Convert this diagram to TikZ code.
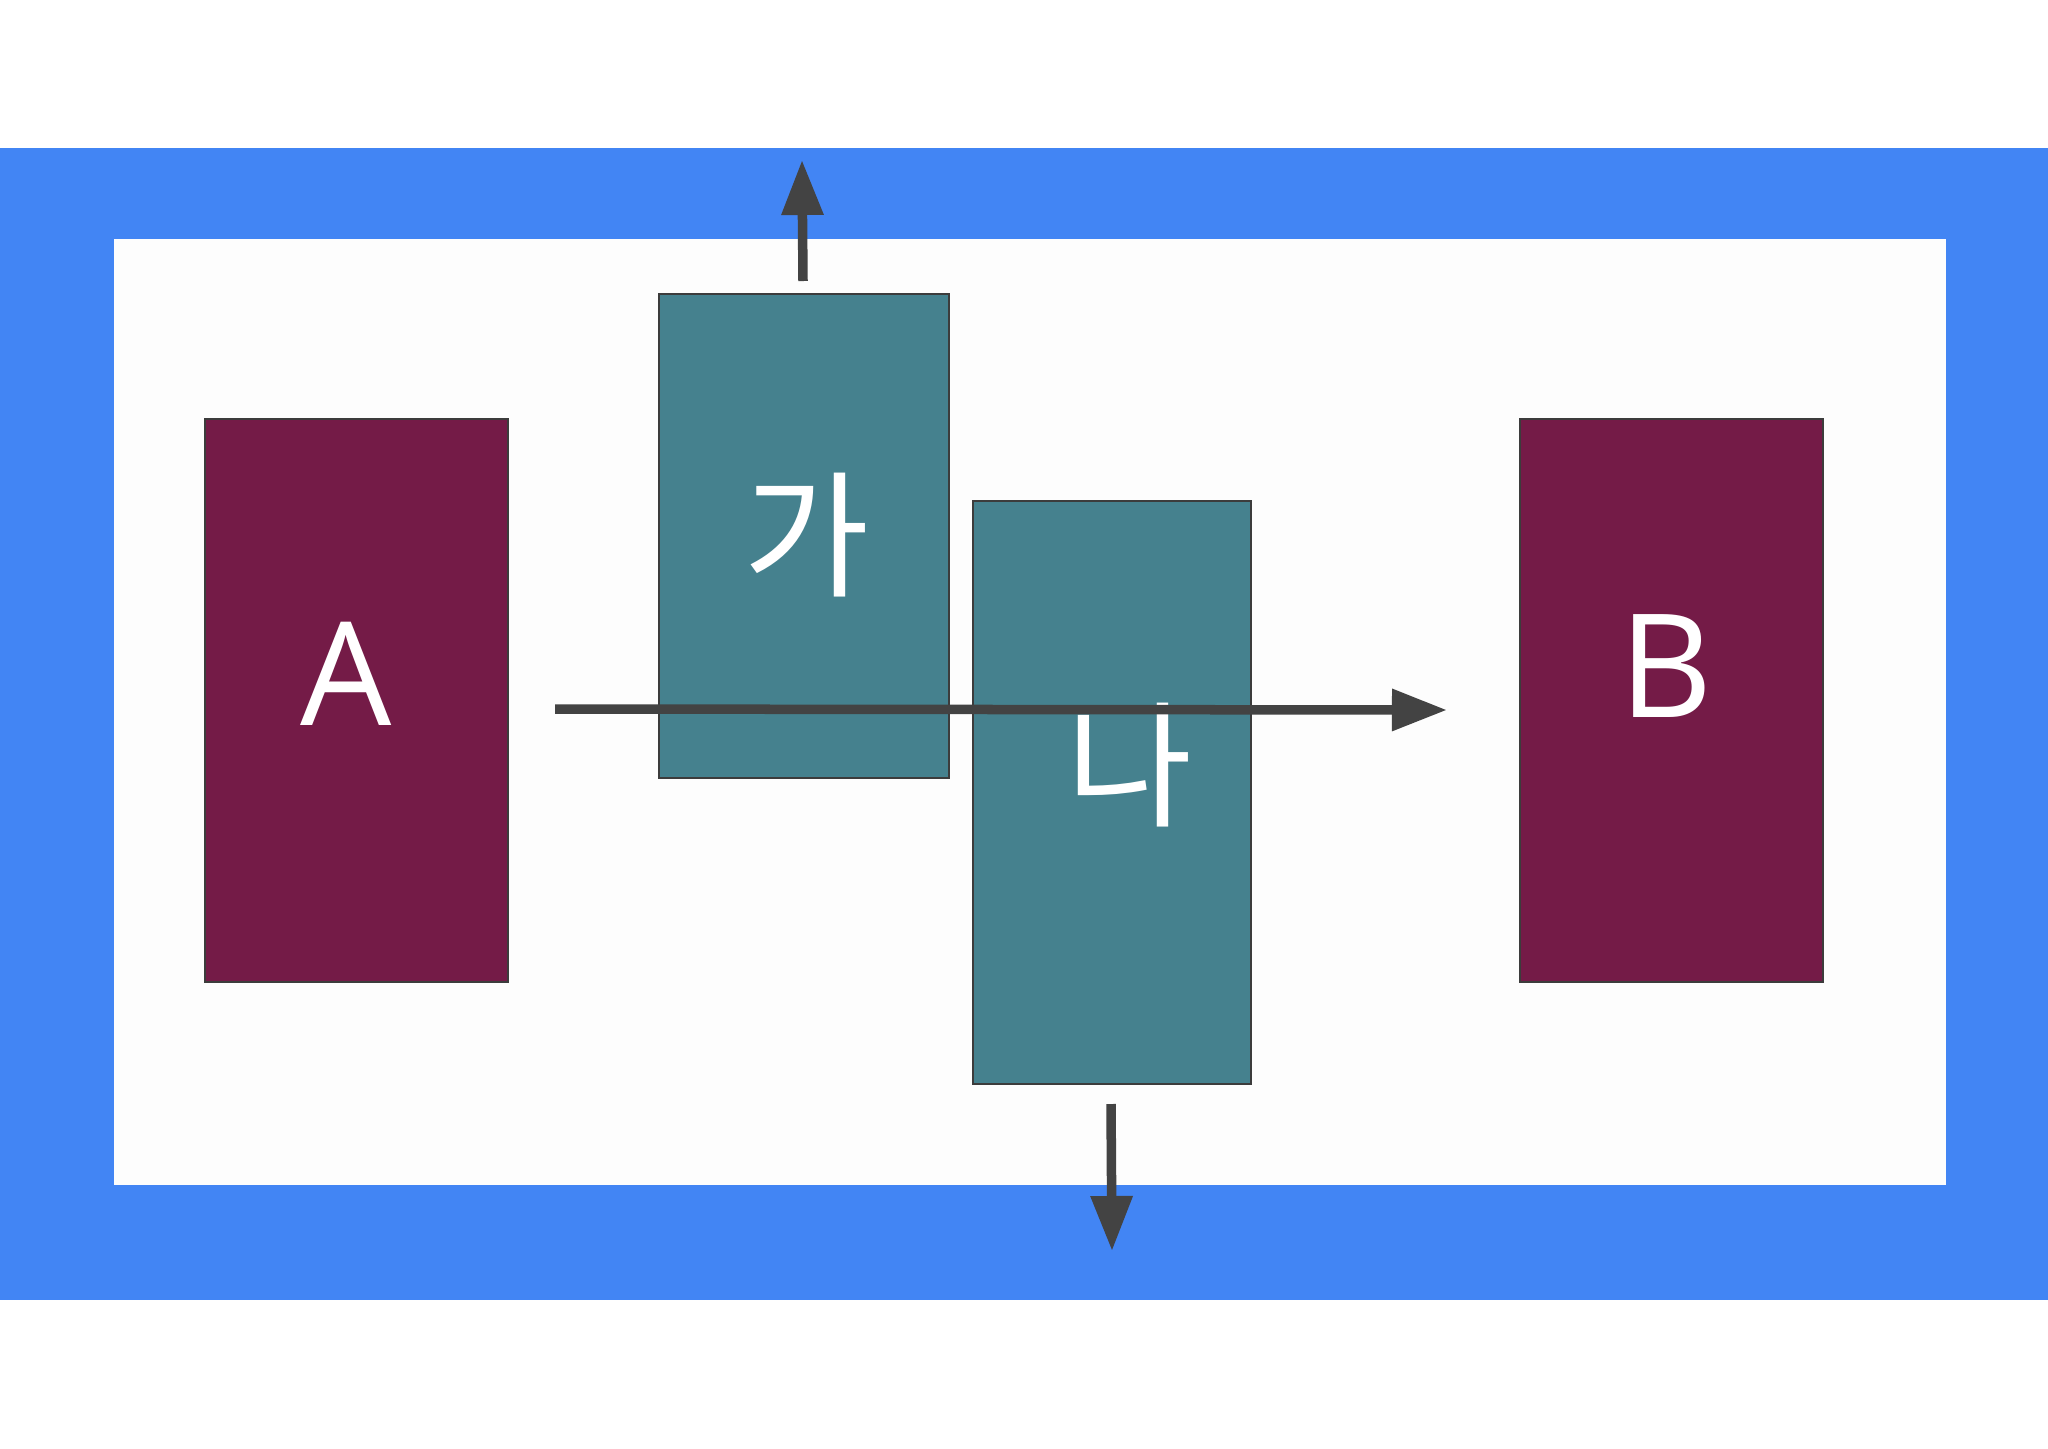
\documentclass[tikz,border=0pt]{standalone}
\usepackage{fontspec}
\setmainfont{Open Sans}
\newfontfamily\krfont{Noto Sans CJK KR}
\usetikzlibrary{arrows.meta}
\definecolor{gblue}{HTML}{4285F4}
\definecolor{maroonbox}{HTML}{741B47}
\definecolor{tealbox}{HTML}{45818E}
\definecolor{arrowgray}{HTML}{434343}
\definecolor{boxline}{HTML}{3C3C3C}
\definecolor{innerwhite}{HTML}{FDFDFD}
\tikzset{
  panel/.style={draw=boxline, line width=0.6pt, inner sep=0pt},
  endbox/.style={panel, fill=maroonbox},
  midbox/.style={panel, fill=tealbox},
  latinlabel/.style={text=white, font=\fontsize{41}{48}\selectfont, inner sep=0pt},
  krlabel/.style={text=white, font=\krfont\fontsize{39}{46}\selectfont, inner sep=0pt},
  flow/.style={draw=arrowgray, line width=0.095cm, -{Triangle[length=0.55cm,width=0.4cm]}}
}
\begin{document}
\begin{tikzpicture}[x=0.01cm,y=-0.01cm]
\useasboundingbox (0,0) rectangle (2048,1448);
\fill[white] (0,0) rectangle (2048,1448);
\fill[gblue] (0,148) rectangle (2048,1300);
\fill[innerwhite] (114,239) rectangle (1946,1185);

\node[endbox, minimum width=3.03cm, minimum height=5.63cm] (A) at (356.5,700.5) {};
\node[endbox, minimum width=3.03cm, minimum height=5.63cm] (B) at (1671.5,700.5) {};
\node[midbox, minimum width=2.90cm, minimum height=4.84cm] (ga) at (804,536) {};
\node[midbox, minimum width=2.78cm, minimum height=5.83cm] (na) at (1112,792.5) {};

\node[latinlabel] (Alab) at (346,674) {A};
\node[latinlabel] (Blab) at (1666,666) {B};
\node[krlabel] (galab) at (807,535) {가};
\node[krlabel] (nalab) at (1130,765) {나};

\coordinate (hstart) at (555,709);
\coordinate (hend) at (1447,710);
\coordinate (ustart) at (803,281);
\coordinate (uend) at (802,160);
\coordinate (dstart) at (1111,1104);
\coordinate (dend) at (1112,1251);

\draw[flow] (hstart) -- (hend);
\draw[flow] (ustart) -- (uend);
\draw[flow] (dstart) -- (dend);
\end{tikzpicture}
\end{document}
